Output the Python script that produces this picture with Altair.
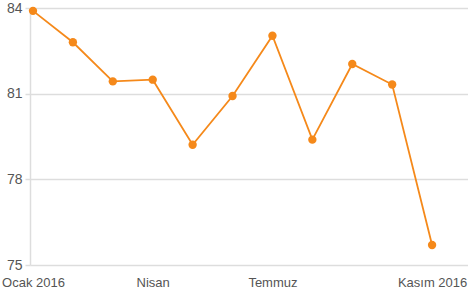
import altair as alt
import pandas as pd

months = ["Ocak", "Şubat", "Mart", "Nisan", "Mayıs", "Haziran", "Temmuz",
          "Ağustos", "Eylül", "Ekim", "Kasım"]
values = [83.9, 82.8, 81.43, 81.49, 79.21, 80.92, 83.03, 79.39, 82.04, 81.32, 75.7]
tick_idx = [0, 3, 6, 10]
tick_labels = ["Ocak 2016", "Nisan", "Temmuz", "Kasım 2016"]

df = pd.DataFrame({"i": list(range(len(months))), "month": months, "value": values})

label_expr = " : ".join(
    [f"datum.value == {i} ? '{t}'" for i, t in zip(tick_idx, tick_labels)]
) + " : ''"

FONT = "Liberation Sans, Arial, sans-serif"
ORANGE = "#f5891a"

x = alt.X("i:Q", scale=alt.Scale(domain=[-0.075, 10.9], nice=False, zero=False),
          axis=alt.Axis(values=tick_idx, labelExpr=label_expr, grid=False, ticks=False,
                        domain=False, labelPadding=11, labelFontSize=13, labelFont=FONT,
                        labelColor="#555555", title=None, labelFlush=False))
y = alt.Y("value:Q", scale=alt.Scale(domain=[75, 84], nice=False, zero=False),
          axis=alt.Axis(values=[75, 78, 81, 84], grid=True, gridColor="#dddddd", gridWidth=1.5,
                        ticks=True, tickSize=5, tickColor="#dddddd", tickWidth=1.5,
                        domain=True, domainColor="#dddddd", domainWidth=1.5,
                        labelPadding=3, labelFontSize=14, labelFont=FONT,
                        labelColor="#555555", title=None))

line = alt.Chart(df).mark_line(color=ORANGE, strokeWidth=1.8).encode(x=x, y=y)
pts = alt.Chart(df).mark_point(filled=True, color=ORANGE, size=70, opacity=1).encode(x=x, y=y)

chart = (line + pts).properties(
    width=438, height=257,
    autosize=alt.AutoSizeParams(type="none"),
    padding={"left": 30, "top": 8, "right": 0, "bottom": 35},
).configure_view(stroke=None)

chart.save("out.html", embed_options={"renderer": "svg", "actions": False})
